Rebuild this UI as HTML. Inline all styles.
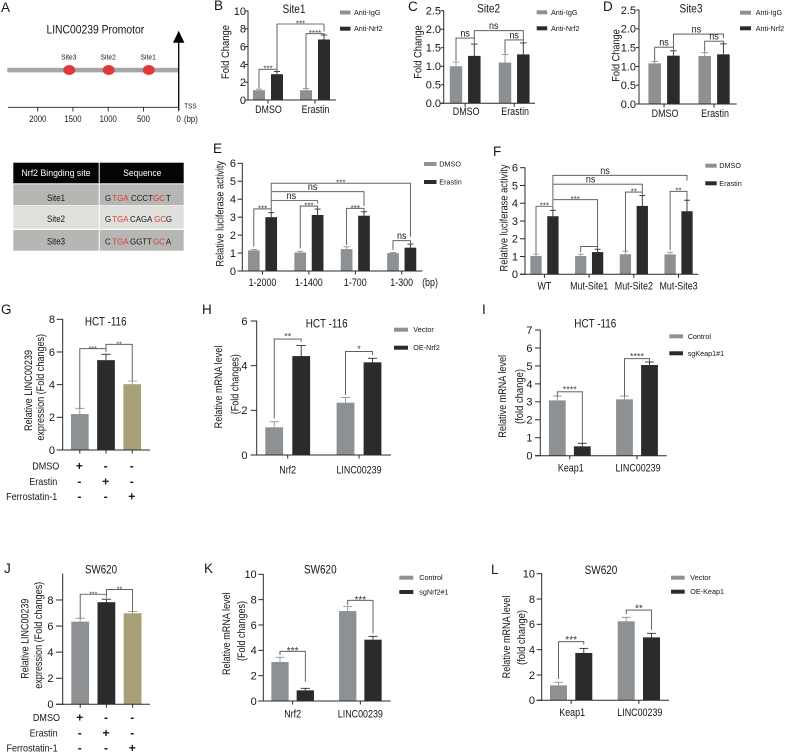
<!DOCTYPE html>
<html lang="en">
<head>
<meta charset="utf-8">
<title>LINC00239 Nrf2 figure</title>
<style>
html,body{margin:0;padding:0;background:#fff;width:785px;height:752px;overflow:hidden}
svg{display:block;filter:blur(0.25px)}
text{font-family:"Liberation Sans",sans-serif;fill:#161616}
</style>
</head>
<body>
<svg id="figure" xmlns="http://www.w3.org/2000/svg" width="785" height="752" viewBox="0 0 785 752">
  <g>
    <rect x="13.3" y="162.7" width="85.4" height="20.6" fill="#050505"/>
    <rect x="99.7" y="162.7" width="84" height="20.6" fill="#050505"/>
    <rect x="13.3" y="184.3" width="85.4" height="21" fill="#b6b6b4"/>
    <rect x="99.7" y="184.3" width="84" height="21" fill="#b6b6b4"/>
    <rect x="13.3" y="206" width="85.4" height="22.8" fill="#dfdfdb"/>
    <rect x="99.7" y="206" width="84" height="22.8" fill="#dfdfdb"/>
    <rect x="13.3" y="230" width="85.4" height="20.7" fill="#b6b6b4"/>
    <rect x="99.7" y="230" width="84" height="20.7" fill="#b6b6b4"/>
    <text x="56" y="175.8" font-size="9" text-anchor="middle" textLength="69" lengthAdjust="spacingAndGlyphs" style="fill:#fff">Nrf2 Bingding site</text>
    <text x="142.3" y="175.8" font-size="9" text-anchor="middle" textLength="38" lengthAdjust="spacingAndGlyphs" style="fill:#fff">Sequence</text>
    <text x="56" y="200.9" font-size="9" text-anchor="middle" textLength="18" lengthAdjust="spacingAndGlyphs">Site1</text>
    <text x="56" y="221.9" font-size="9" text-anchor="middle" textLength="18" lengthAdjust="spacingAndGlyphs">Site2</text>
    <text x="56" y="244.5" font-size="9" text-anchor="middle" textLength="18" lengthAdjust="spacingAndGlyphs">Site3</text>
    <text y="200.9" font-size="7.9"><tspan x="105">G</tspan><tspan x="112.3" style="fill:#d8402f">TGA</tspan><tspan x="131">CCCT</tspan><tspan x="153" style="fill:#d8402f">GC</tspan><tspan x="165.9">T</tspan></text>
    <text y="221.9" font-size="7.9"><tspan x="105">G</tspan><tspan x="112.3" style="fill:#d8402f">TGA</tspan><tspan x="130">CAGA</tspan><tspan x="154.3" style="fill:#d8402f">GC</tspan><tspan x="165.9">G</tspan></text>
    <text y="244.5" font-size="7.9"><tspan x="105">C</tspan><tspan x="112.3" style="fill:#d8402f">TGA</tspan><tspan x="130">GGTT</tspan><tspan x="153" style="fill:#d8402f">GC</tspan><tspan x="165.9">A</tspan></text>
  </g>
</svg>
<script>
/* ---------- Panel A data ---------- */
const promoterTicks = [2000, 1500, 1000, 500, 0];
const siteNames = ['Site3', 'Site2', 'Site1'];
const sitePositions = [1552, 993, 425];

/* ---------- Panel B ---------- */
const seriesB = ['Anti-IgG', 'Anti-Nrf2'];
const categoriesB = ['DMSO', 'Erastin'];
const valuesB = [1.1, 2.9, 1.1, 6.8];
const errorsB = [0.12, 0.3, 0.2, 0.5];
const ticksB = ['0', '2', '4', '6', '8', '10'];
const bracketsB = [[0, 1, 3.45, 1.3, 3.2, '***'], [1, 3, 8.54, 3.45, 7.7, '***'], [2, 3, 7.45, 1.35, 7.2, '****']];

/* ---------- Panel C ---------- */
const seriesC = ['Anti-IgG', 'Anti-Nrf2'];
const categoriesC = ['DMSO', 'Erastin'];
const valuesC = [1.0, 1.28, 1.1, 1.32];
const errorsC = [0.11, 0.32, 0.22, 0.31];
const ticksC = ['0.0', '0.5', '1.0', '1.5', '2.0', '2.5'];
const bracketsC = [[0, 1, 1.76, 1.14, 1.62, 'ns'], [1, 3, 1.96, 1.76, 1.72, 'ns'], [2, 3, 1.71, 1.34, 1.62, 'ns']];

/* ---------- Panel D ---------- */
const seriesD = ['Anti-IgG', 'Anti-Nrf2'];
const categoriesD = ['DMSO', 'Erastin'];
const valuesD = [1.08, 1.285, 1.277, 1.32];
const errorsD = [0.05, 0.13, 0.09, 0.28];
const ticksD = ['0.0', '0.5', '1.0', '1.5', '2.0', '2.5'];
const bracketsD = [[0, 1, 1.51, 1.14, 1.44, 'ns'], [1, 3, 1.86, 1.51, 1.75, 'ns'], [2, 3, 1.67, 1.39, 1.6, 'ns']];

/* ---------- Panel E ---------- */
const seriesE = ['DMSO', 'Erastin'];
const categoriesE = ['1-2000', '1-1400', '1-700', '1-300'];
const valuesE = [1.15, 3.0, 1.03, 3.12, 1.22, 3.08, 1.0, 1.3];
const errorsE = [0.05, 0.25, 0.07, 0.33, 0.13, 0.22, 0.03, 0.2];
const ticksE = ['0', '1', '2', '3', '4', '5', '6'];
const bracketsE = [
  [0, 1, 3.46, 1.36, 3.2, '***'], [2, 3, 3.62, 1.26, 3.46, '***'], [4, 5, 3.49, 1.45, 3.3, '***'],
  [6, 7, 1.69, 1.17, 1.54, 'ns'], [1, 3, 3.92, 3.46, 3.77, 'ns'], [1, 5, 4.42, 3.92, 3.62, 'ns'],
  [1, 7, 4.89, 4.46, 1.91, '***']
];

/* ---------- Panel F ---------- */
const seriesF = ['DMSO', 'Erastin'];
const categoriesF = ['WT', 'Mut-Site1', 'Mut-Site2', 'Mut-Site3'];
const valuesF = [1.03, 3.27, 1.03, 1.25, 1.13, 3.85, 1.12, 3.55];
const errorsF = [0.1, 0.33, 0.1, 0.16, 0.17, 0.58, 0.12, 0.62];
const ticksF = ['0', '1', '2', '3', '4', '5', '6'];
const bracketsF = [
  [0, 1, 3.83, 1.18, 3.62, '***'], [2, 3, 1.56, 1.24, 1.43, ''], [4, 5, 4.63, 1.31, 4.47, '**'],
  [6, 7, 4.67, 1.37, 4.18, '**'], [1, 3, 4.2, 3.87, 1.56, '***'], [1, 5, 5.07, 4.24, 4.65, 'ns'],
  [1, 7, 5.57, 5.08, 5.27, 'ns']
];

/* ---------- Panel G ---------- */
const valuesG = [2.2, 5.5, 4.03];
const errorsG = [0.35, 0.36, 0.19];
const ticksG = ['0', '2', '4', '6', '8'];
const treatmentsG = ['DMSO', 'Erastin', 'Ferrostatin-1'];
const signsG = [['+', '-', '-'], ['-', '+', '-'], ['-', '-', '+']];
const bracketsG = [[0, 1, 6.2, 2.55, 5.98, '***'], [1, 2, 6.47, 6.2, 4.22, '**']];

/* ---------- Panel H ---------- */
const seriesH = ['Vector', 'OE-Nrf2'];
const categoriesH = ['Nrf2', 'LINC00239'];
const valuesH = [1.24, 4.43, 2.34, 4.15];
const errorsH = [0.25, 0.47, 0.24, 0.18];
const ticksH = ['0', '2', '4', '6'];
const bracketsH = [[0, 1, 5.19, 1.64, 5.07, '**'], [2, 3, 4.63, 2.69, 4.48, '*']];

/* ---------- Panel I ---------- */
const seriesI = ['Control', 'sgKeap1#1'];
const categoriesI = ['Keap1', 'LINC00239'];
const valuesI = [3.08, 0.52, 3.14, 5.05];
const errorsI = [0.24, 0.17, 0.18, 0.17];
const ticksI = ['0', '1', '2', '3', '4', '5', '6', '7'];
const bracketsI = [[0, 1, 3.56, 3.29, 0.69, '****'], [2, 3, 5.4, 3.32, 5.18, '****']];

/* ---------- Panel J ---------- */
const valuesJ = [6.34, 7.83, 6.98];
const errorsJ = [0.26, 0.23, 0.13];
const ticksJ = ['0', '2', '4', '6', '8'];
const treatmentsJ = ['DMSO', 'Erastin', 'Ferrostatin-1'];
const signsJ = [['+', '-', '-'], ['-', '+', '-'], ['-', '-', '+']];
const bracketsJ = [[0, 1, 8.44, 6.6, 8.18, '***'], [1, 2, 8.8, 8.44, 7.11, '**']];

/* ---------- Panel K ---------- */
const seriesK = ['Control', 'sgNrf2#1'];
const categoriesK = ['Nrf2', 'LINC00239'];
const valuesK = [3.08, 0.84, 7.1, 4.84];
const errorsK = [0.37, 0.16, 0.37, 0.26];
const ticksK = ['0', '2', '4', '6', '8', '10'];
const bracketsK = [[0, 1, 3.92, 3.63, 1.53, '***'], [2, 3, 7.95, 7.58, 5.34, '***']];

/* ---------- Panel L ---------- */
const seriesL = ['Vector', 'OE-Keap1'];
const categoriesL = ['Keap1', 'LINC00239'];
const valuesL = [1.18, 3.74, 6.24, 4.97];
const errorsL = [0.24, 0.36, 0.31, 0.32];
const ticksL = ['0', '2', '4', '6', '8', '10'];
const bracketsL = [[0, 1, 4.63, 1.68, 4.42, '***'], [2, 3, 7.13, 6.79, 5.55, '**']];

/* ---------- drawing helpers ---------- */
const NS = 'http://www.w3.org/2000/svg';
const svg = document.getElementById('figure');
const GREY = '#8e9193', DARK = '#2b2b2b', TAN = '#a8a078', LINE = '#4a4a4a', AXIS = '#2a2a2a';

function mk(tag, attrs, parent) {
  const n = document.createElementNS(NS, tag);
  for (const k in attrs) n.setAttribute(k, attrs[k]);
  parent.appendChild(n);
  return n;
}
function line(parent, x1, y1, x2, y2, color, width, name) {
  const l = mk('line', { x1: x1, y1: y1, x2: x2, y2: y2, stroke: color, 'stroke-width': width }, parent);
  
  
  return l;
}
function label(parent, str, x, y, size, anchor, name, opts) {
  const o = opts || {};
  const t = mk('text', { x: x, y: y, 'font-size': size, 'text-anchor': anchor || 'start' }, parent);
  t.textContent = str;
  
  
  if (o.rotate) t.setAttribute('transform', 'rotate(-90 ' + x + ' ' + y + ')');
  if (o.fill) t.style.fill = o.fill;
  if (o.bold) t.setAttribute('font-weight', 'bold');
  const target = o.len || (o.squeeze ? t.getComputedTextLength() * o.squeeze : 0);
  if (target) {
    t.setAttribute('textLength', target);
    t.setAttribute('lengthAdjust', 'spacingAndGlyphs');
  }
  return t;
}

function drawPanel(p) {
  const g = mk('g', {}, svg);
  
  

  const y = v => p.y0 - (v / p.yMax) * (p.y0 - p.yTop);
  const n = p.perGroup;
  const barX = i => p.start + Math.floor(i / n) * p.group + (i % n) * p.inner;
  const groupX = k => p.start + k * p.group + (n - 1) * p.inner / 2;

  /* bars and error bars */
  p.values.forEach((v, i) => {
    const color = p.colors[n === 1 ? i : i % n];
    const cx = barX(i);
    const r = mk('rect', { x: cx - p.w / 2, y: y(v), width: p.w, height: p.y0 - y(v), fill: color }, g);
    
    
    const top = y(v + p.errors[i]);
    line(g, cx, y(v), cx, top, color, 0.9, 'error-bar-' + i);
    line(g, cx - p.w * 0.26, top, cx + p.w * 0.26, top, color, 0.9, 'error-cap-' + i);
  });

  /* axes */
  line(g, p.ax, p.yTop - 0.4, p.ax, p.y0 + 0.4, AXIS, 1, 'y-axis');
  line(g, p.ax - (p.tickLen || 4), p.y0, p.xEnd, p.y0, AXIS, 1, 'x-axis');
  p.ticks.forEach(s => {
    const v = parseFloat(s);
    line(g, p.ax - (p.tickLen || 4), y(v), p.ax, y(v), AXIS, 1, 'y-tick-' + s);
    label(g, s, p.tickEnd, y(v) + 3.9, 11, 'end', 'y-tick-label-' + s);
  });

  /* categories */
  if (p.categories) {
    p.categories.forEach((c, k) => {
      line(g, groupX(k), p.y0, groupX(k), p.y0 + 3.5, AXIS, 1, 'x-tick-' + c);
      label(g, c, groupX(k) + (p.catDx || 0), p.catY, 11, 'middle', 'x-label-' + c, { squeeze: 0.81 });
    });
  }
  if (p.unitLabel) {
    label(g, p.unitLabel, p.unitX, p.catY, 11, 'middle', 'x-unit-label', { squeeze: 0.81 });
  }
  if (p.signs) {
    p.values.forEach((v, i) => {
      line(g, barX(i), p.y0, barX(i), p.y0 + 3.5, AXIS, 1, 'x-tick-' + i);
    });
    p.treatments.forEach((name, row) => {
      label(g, name, p.rowEnds[row], p.rowYs[row], 10.5, 'end', 'treatment-label-' + name, { squeeze: 0.86 });
      p.signs[row].forEach((s, i) => {
        label(g, s, barX(i) - 0.4, p.rowYs[row] + 0.5, 12, 'middle', 'treatment-sign-' + row + '-' + i, { bold: true });
      });
    });
  }

  /* significance brackets */
  p.brackets.forEach((b, i) => {
    const xa = barX(b[0]), xb = barX(b[1]);
    const top = y(b[2]);
    const path = mk('path', {
      d: 'M' + xa + ' ' + y(b[3]) + 'V' + top + 'H' + xb + 'V' + y(b[4]),
      fill: 'none', stroke: LINE, 'stroke-width': 0.85
    }, g);
    
    
    if (b[5]) {
      const lx = (xa + xb) / 2 + ((p.labelDx && p.labelDx[i]) || 0);
      if (b[5] === 'ns') {
        label(g, b[5], lx, top - 1.5, 10, 'middle', 'significance-label-' + i, { squeeze: 0.9 });
      } else {
        const size = p.starSize || 8;
        label(g, b[5], lx, top + size * 0.3 - (p.starLift || 0), size, 'middle', 'significance-label-' + i, { fill: p.starFill || '#444' });
      }
    }
  });

  /* legend */
  if (p.series) {
    p.series.forEach((s, i) => {
      const sw = mk('rect', { x: p.legX, y: p.legY[i] - 2, width: p.legW, height: 4, fill: p.colors[i] }, g);
      
      
      label(g, s, p.legTextX, p.legY[i] + 2.5, 7.6, 'start', 'legend-label-' + s, { squeeze: 0.95 });
    });
  }

  /* titles */
  if (p.title) {
    label(g, p.title, p.titleX, p.titleY, 12, 'middle', 'panel-title', { len: p.titleLen });
  }
  p.yTitles.forEach((t, i) => {
    label(g, t[0], t[1] + 3.5, t[2], 11, 'middle', 'y-axis-title-' + i, { rotate: true, len: t[3] });
  });
}

/* ---------- panel A diagram ---------- */
(function drawPromoter() {
  const g = mk('g', {}, svg);
  
  
  const bpX = bp => 178.7 - bp * 0.0705;
  label(g, 'LINC00239 Promotor', 95.3, 33.6, 12, 'middle', 'promoter-title', { len: 97.7 });
  const bar = mk('rect', { x: 7.3, y: 67.8, width: 171, height: 4.6, fill: '#a6a6a6' }, g);
  
  
  sitePositions.forEach((bp, i) => {
    const e = mk('ellipse', { cx: bpX(bp), cy: 70, rx: 6, ry: 5, fill: '#e0393a' }, g);
    
    
    label(g, siteNames[i], bpX(bp) - 0.5, 59.5, 7.5, 'middle', 'binding-site-label-' + siteNames[i], { squeeze: 0.9 });
  });
  line(g, 178.7, 40, 178.7, 110, '#000', 1.3, 'tss-arrow-shaft');
  const head = mk('path', { d: 'M178.7 30.7L184.4 42.7H173Z', fill: '#000' }, g);
  
  
  line(g, 8, 107.3, 178.7, 107.3, '#222', 0.9, 'promoter-axis');
  promoterTicks.forEach(bp => {
    line(g, bpX(bp), 107.3, bpX(bp), 111.5, '#222', 0.9, 'promoter-tick-' + bp);
    label(g, String(bp), bpX(bp), 121.9, 8.8, 'middle', 'promoter-tick-label-' + bp, { squeeze: 0.88 });
  });
  label(g, 'TSS', 184.3, 108.3, 7, 'start', 'tss-label', { squeeze: 0.9 });
  label(g, '(bp)', 184, 121.9, 8.8, 'start', 'bp-unit-label', { squeeze: 0.88 });
})();

/* ---------- panels ---------- */
const two = [GREY, DARK];
const three = [GREY, DARK, TAN];
[
  { id: 'b', series: seriesB, categories: categoriesB, values: valuesB, errors: errorsB, ticks: ticksB, brackets: bracketsB, colors: two, perGroup: 2,
    yMax: 10, yTop: 11, y0: 100, ax: 248, xEnd: 336, start: 259, inner: 18, group: 47, w: 12, tickEnd: 246, tickLen: 3, catY: 113, catDx: 0.5,
    title: 'Site1', titleX: 294, titleY: 13, titleLen: 23, legX: 340, legW: 10.5, legY: [12.5, 28.7], legTextX: 354,
    yTitles: [['Fold Change', 225.7, 52, 54]] },
  { id: 'c', series: seriesC, categories: categoriesC, values: valuesC, errors: errorsC, ticks: ticksC, brackets: bracketsC, colors: two, perGroup: 2,
    yMax: 2.5, yTop: 10.7, y0: 103.3, ax: 443.7, xEnd: 535, start: 456, inner: 18.3, group: 49, w: 12.5, tickEnd: 441, tickLen: 3, catY: 115, catDx: 1,
    title: 'Site2', titleX: 488.6, titleY: 12.7, titleLen: 23, legX: 536.7, legW: 10.5, legY: [12.3, 28.3], legTextX: 551,
    labelDx: { 1: -5 }, yTitles: [['Fold Change', 418, 52, 53.5]] },
  { id: 'd', series: seriesD, categories: categoriesD, values: valuesD, errors: errorsD, ticks: ticksD, brackets: bracketsD, colors: two, perGroup: 2,
    yMax: 2.5, yTop: 10, y0: 104, ax: 639, xEnd: 736.7, start: 654.7, inner: 18.7, group: 50, w: 12.6, tickEnd: 636, tickLen: 3, catY: 117, catDx: 1,
    title: 'Site3', titleX: 691, titleY: 12.7, titleLen: 23, legX: 740, legW: 11, legY: [12.7, 28.3], legTextX: 755.7,
    labelDx: { 1: -2 }, yTitles: [['Fold Change', 616, 55.5, 52.5]] },
  { id: 'e', series: seriesE, categories: categoriesE, values: valuesE, errors: errorsE, ticks: ticksE, brackets: bracketsE, colors: two, perGroup: 2,
    yMax: 6, yTop: 163.3, y0: 271, ax: 242.3, xEnd: 422.3, start: 253.8, inner: 17.4, group: 46.4, w: 11.7, tickEnd: 236, tickLen: 4.7, catY: 286,
    unitLabel: '(bp)', unitX: 430,
    legX: 424, legW: 12.5, legY: [164, 182], legTextX: 439.3, labelDx: { 4: -3, 5: -5 },
    yTitles: [['Relative luciferase activity', 220, 213.8, 105.7]] },
  { id: 'f', series: seriesF, categories: categoriesF, values: valuesF, errors: errorsF, ticks: ticksF, brackets: bracketsF, colors: two, perGroup: 2,
    yMax: 6, yTop: 167.7, y0: 274.3, ax: 525, xEnd: 698.3, start: 536, inner: 16.9, group: 44.7, w: 11.3, tickEnd: 518, tickLen: 5, catY: 289.5,
    legX: 705.3, legW: 11.4, legY: [165.7, 183.3], legTextX: 719.3, labelDx: { 5: -7, 6: -15 },
    yTitles: [['Relative luciferase activity', 504, 218, 107]] },
  { id: 'g', values: valuesG, errors: errorsG, ticks: ticksG, brackets: bracketsG, colors: three, perGroup: 1,
    signs: signsG, treatments: treatmentsG, rowEnds: [59.3, 57.3, 57.3], rowYs: [469.3, 485, 500],
    yMax: 8, yTop: 319.3, y0: 450, ax: 62.7, xEnd: 150, start: 79.8, inner: 0, group: 26.2, w: 17.7, tickEnd: 55, tickLen: 6,
    title: 'HCT -116', titleX: 105.7, titleY: 325.7, titleLen: 41.7, starSize: 7,
    yTitles: [['Relative LINC00239', 28.3, 390.5, 81], ['expression (Fold changes)', 40.7, 387.3, 106.7]] },
  { id: 'h', series: seriesH, categories: categoriesH, values: valuesH, errors: errorsH, ticks: ticksH, brackets: bracketsH, colors: two, perGroup: 2,
    yMax: 6, yTop: 321, y0: 455, ax: 256.7, xEnd: 391, start: 274.2, inner: 27, group: 71.3, w: 17.8, tickEnd: 247.5, tickLen: 6, catY: 473.3,
    title: 'HCT -116', titleX: 326.7, titleY: 327.7, titleLen: 42, legX: 394, legW: 14, legY: [329.7, 347.7], legTextX: 413.3, starSize: 9, starLift: 2.5,
    yTitles: [['Relative mRNA level', 218.3, 387, 82.7], ['(Fold changes)', 235, 384.3, 60]] },
  { id: 'i', series: seriesI, categories: categoriesI, values: valuesI, errors: errorsI, ticks: ticksI, brackets: bracketsI, colors: two, perGroup: 2,
    yMax: 7, yTop: 330, y0: 455.7, ax: 540.3, xEnd: 666.7, start: 557.3, inner: 25, group: 67.2, w: 16.8, tickEnd: 532.5, tickLen: 5.3, catY: 471.7, catDx: 1,
    title: 'HCT -116', titleX: 595.3, titleY: 327.7, titleLen: 42, legX: 669.3, legW: 13.7, legY: [336.3, 353.3], legTextX: 687.7, starSize: 9, starLift: 2,
    yTitles: [['Relative mRNA level', 502.7, 396.3, 82.7], ['(fold change)', 519.3, 396.5, 55]] },
  { id: 'j', values: valuesJ, errors: errorsJ, ticks: ticksJ, brackets: bracketsJ, colors: three, perGroup: 1,
    signs: signsJ, treatments: treatmentsJ, rowEnds: [60, 57.7, 57.7], rowYs: [721, 736.7, 751.7],
    yMax: 10, yTop: 573.9, y0: 704.3, ax: 62.7, xEnd: 150, start: 80.2, inner: 0, group: 26.2, w: 17.8, tickEnd: 53.5, tickLen: 6.7,
    title: 'SW620', titleX: 101, titleY: 573.3, titleLen: 32, starSize: 7,
    yTitles: [['Relative LINC00239', 25, 638.7, 80], ['expression (Fold changes)', 38.3, 635.3, 107]] },
  { id: 'k', series: seriesK, categories: categoriesK, values: valuesK, errors: errorsK, ticks: ticksK, brackets: bracketsK, colors: two, perGroup: 2,
    yMax: 10, yTop: 574.3, y0: 701, ax: 263.3, xEnd: 390.7, start: 280, inner: 25.3, group: 67.7, w: 17.3, tickEnd: 256.7, tickLen: 5, catY: 717.7,
    title: 'SW620', titleX: 320.3, titleY: 573.3, titleLen: 32.7, legX: 399.3, legW: 14, legY: [577.7, 592], legTextX: 419.3, starSize: 10, starFill: '#333', starLift: 0.5,
    yTitles: [['Relative mRNA level', 226.7, 633.7, 82.7], ['(Fold changes)', 241.7, 631, 60]] },
  { id: 'l', series: seriesL, categories: categoriesL, values: valuesL, errors: errorsL, ticks: ticksL, brackets: bracketsL, colors: two, perGroup: 2,
    yMax: 10, yTop: 573.7, y0: 700.3, ax: 541.7, xEnd: 669, start: 558.5, inner: 25.3, group: 67.7, w: 17, tickEnd: 535, tickLen: 5, catY: 716, catDx: 1,
    title: 'SW620', titleX: 601, titleY: 574, titleLen: 32.7, legX: 671, legW: 13.7, legY: [577.7, 591.7], legTextX: 690.3, starSize: 10, starFill: '#333', starLift: 1.5,
    yTitles: [['Relative mRNA level', 506.7, 637, 82.7], ['(fold change)', 521.7, 637.5, 55]] }
].forEach(drawPanel);

/* ---------- panel letters ---------- */
const panelLetters = ['A', 'B', 'C', 'D', 'E', 'F', 'G', 'H', 'I', 'J', 'K', 'L'];
const letterSpots = [[1, 12], [214, 10], [408, 11], [603, 11], [213, 153], [493, 156], [1, 314], [202, 314], [482, 314], [4, 573], [204, 573], [491, 574]];
panelLetters.forEach((s, i) => {
  label(svg, s, letterSpots[i][0], letterSpots[i][1], 13.5, 'start', 'panel-letter-' + s);
});
</script>
</body>
</html>
